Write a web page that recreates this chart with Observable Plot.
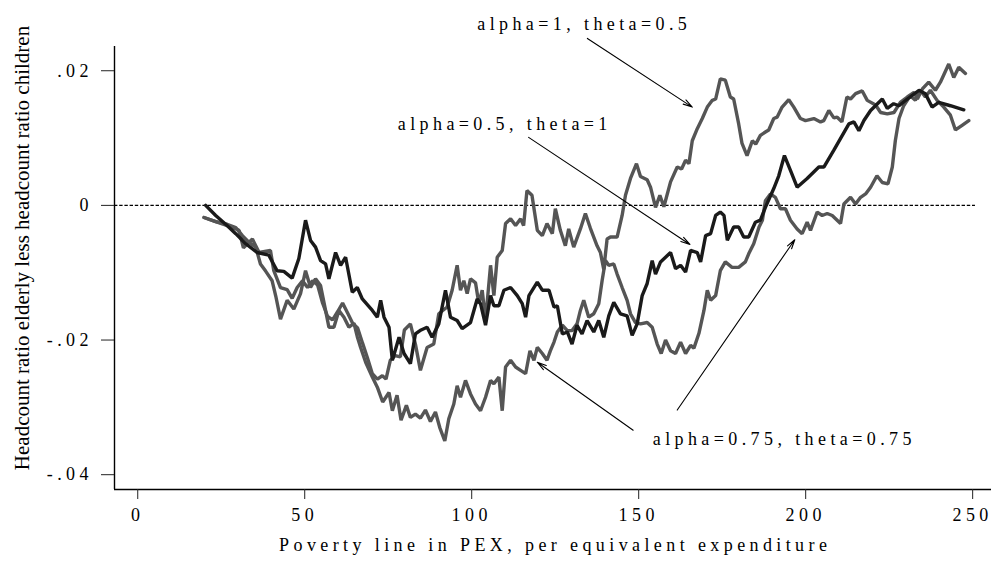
<!DOCTYPE html>
<html>
<head>
<meta charset="utf-8">
<script src="https://cdn.jsdelivr.net/npm/d3@7"></script>
<script src="https://cdn.jsdelivr.net/npm/@observablehq/plot@0.6"></script>
<style>
  html, body { margin: 0; padding: 0; background: #fff; }
</style>
</head>
<body>
<div id="chart"></div>
<script>
// ---------------- data ----------------
const xTicks = [0, 50, 100, 150, 200, 250];
const yTicks = [-0.04, -0.02, 0, 0.02];
const xDomain = [-6.3, 256.3];
const yDomain = [-0.0422, 0.0236];
const zeroLineEnd = 251.5;

const xTitle = "Poverty line in PEX, per equivalent expenditure";
const yTitle = "Headcount ratio elderly less headcount ratio children";

// alpha=0.5, theta=1 (black)
const seriesA05T1 = [
[21,0],[24,-0.0015],[27.4,-0.003],[30,-0.0042],[33,-0.0057],[36.4,-0.007],[39.9,-0.0074],[42.4,-0.0097],[44.4,-0.0098],[46.9,-0.0108],[48.9,-0.0079],[50.9,-0.0022],[52.4,-0.0052],[53.9,-0.0062],[55.4,-0.0082],[56.9,-0.0087],[57.9,-0.0109],[59.9,-0.007],[61.4,-0.0089],[62.9,-0.0077],[64.9,-0.0129],[66.4,-0.0122],[67.9,-0.0139],[70.9,-0.0156],[72.4,-0.0166],[73.4,-0.0141],[74.4,-0.0166],[75.9,-0.0181],[76.9,-0.023],[78.9,-0.0196],[80.4,-0.022],[82.3,-0.0235],[83.8,-0.0191],[85.5,-0.0185],[87.3,-0.0181],[88.8,-0.0196],[90.8,-0.0176],[92.8,-0.0126],[94.3,-0.0166],[96.3,-0.0171],[97.8,-0.0183],[100.3,-0.0174],[102.3,-0.0139],[103.3,-0.0146],[104.8,-0.0178],[106.3,-0.0134],[107.3,-0.0149],[108.8,-0.0149],[110.3,-0.0126],[112.3,-0.0122],[114.3,-0.0134],[115.8,-0.0146],[116.8,-0.0166],[117.8,-0.0134],[120.3,-0.0114],[121.8,-0.0126],[123.8,-0.0126],[125.3,-0.0151],[126.3,-0.0149],[127.8,-0.0191],[129.3,-0.0188],[130.7,-0.0206],[132.2,-0.0178],[133.7,-0.0191],[135.2,-0.0171],[137.2,-0.0188],[138.7,-0.0171],[140.2,-0.0196],[141.7,-0.0164],[143.2,-0.0144],[145.2,-0.0161],[147.2,-0.0164],[148.7,-0.0193],[150.2,-0.0176],[151.7,-0.0134],[153.2,-0.0116],[154.7,-0.0082],[155.7,-0.0102],[157.2,-0.0084],[160.2,-0.007],[161.7,-0.0094],[163.2,-0.0089],[164.7,-0.0099],[166.2,-0.0067],[168.2,-0.007],[169.2,-0.0084],[170.7,-0.0045],[172.2,-0.0042],[173.7,-0.0015],[175.1,-0.001],[176.2,-0.0015],[177.2,-0.0052],[179.1,-0.0032],[180.6,-0.0032],[182.1,-0.0047],[183.6,-0.0047],[185.6,-0.0025],[187.1,-0.0022],[188.6,-0.0003],[191.1,0.0025],[192.6,0.0044],[194.3,0.0074],[196.1,0.0052],[198.1,0.0027],[201.1,0.004],[204.6,0.0057],[206.1,0.0057],[209.1,0.0082],[213.6,0.0121],[215.1,0.0124],[216.6,0.0111],[218.1,0.0126],[220.1,0.0141],[223.6,0.0158],[225.1,0.0144],[227,0.0151],[228.6,0.0148],[231.1,0.0158],[234.6,0.0171],[236.5,0.0166],[238.5,0.0146],[240.5,0.0153],[244,0.0148],[248,0.0142]
];

// alpha=1, theta=0.5 (grey, upper)
const seriesA1T05 = [
[20.5,-0.0018],[24,-0.0024],[27.5,-0.003],[31,-0.0037],[32.3,-0.0063],[35,-0.005],[37,-0.007],[40.4,-0.0067],[41.4,-0.0097],[43.4,-0.0122],[45.4,-0.0125],[46.9,-0.0138],[48.4,-0.0122],[50,-0.0112],[51.5,-0.0122],[53,-0.0112],[54.5,-0.0118],[56,-0.0145],[57.5,-0.0165],[59,-0.017],[60.5,-0.0158],[62,-0.0145],[63.5,-0.016],[65,-0.0175],[66.5,-0.0182],[68,-0.0205],[69.4,-0.0226],[70.9,-0.025],[72.4,-0.0258],[73.9,-0.0253],[75,-0.0258],[76.3,-0.023],[77.8,-0.0223],[79.3,-0.0225],[80.5,-0.0185],[82.3,-0.0176],[83.8,-0.0206],[85.3,-0.0245],[87.3,-0.0211],[89.3,-0.0206],[90.8,-0.0161],[93.3,-0.0151],[94.8,-0.0126],[96.3,-0.0089],[97.3,-0.0126],[98.3,-0.0112],[99.3,-0.0131],[100.3,-0.0109],[101.8,-0.0115],[102.8,-0.0146],[103.8,-0.0126],[104.8,-0.0171],[106.3,-0.0089],[107.3,-0.0134],[108.3,-0.0077],[109.8,-0.0067],[110.8,-0.0027],[112.3,-0.002],[113.8,-0.003],[115.3,-0.002],[116.2,-0.003],[117.2,0.0022],[118.7,0.0015],[120.3,-0.0037],[121.8,-0.0045],[123.2,-0.0027],[124.8,-0.0042],[125.7,-0.0005],[127.2,-0.0037],[128.7,-0.006],[129.7,-0.0035],[131.2,-0.0062],[133.2,-0.0035],[134.7,-0.0012],[136.2,-0.0034],[138.2,-0.006],[139.2,-0.007],[140.2,-0.0095],[141.2,-0.005],[142.2,-0.0047],[144.2,-0.0047],[145.7,-0.0015],[146.7,0.0015],[148.2,0.004],[150,0.0062],[151.2,0.0043],[153.2,0.0038],[154.2,0.0027],[155.7,-0.0003],[157,0.0015],[158.2,-0.0002],[160.2,0.0035],[162.2,0.0057],[163.5,0.0054],[164.7,0.0067],[165.7,0.0062],[166.7,0.0096],[168.2,0.0114],[169.7,0.0129],[171.2,0.0146],[172.7,0.0156],[173.7,0.0158],[175.1,0.0188],[176.6,0.0186],[178.1,0.0161],[179.1,0.0158],[180.6,0.0121],[181.6,0.0092],[183.1,0.0074],[184.7,0.0096],[185.7,0.0091],[187.1,0.0104],[188.6,0.0109],[189.6,0.0112],[191.1,0.0129],[192.1,0.0131],[193.6,0.0146],[195.6,0.0157],[197.1,0.0146],[199.1,0.0129],[200.6,0.0126],[203.1,0.0129],[205.1,0.0124],[206.1,0.0126],[207.6,0.0141],[209.1,0.013],[210.1,0.0131],[211.5,0.0124],[213,0.0161],[214.1,0.0158],[215.6,0.0166],[217.6,0.017],[219.1,0.0156],[221.6,0.0149],[223.1,0.0138],[225.1,0.0136],[227.1,0.0138],[229,0.0153],[231.1,0.0161],[233.1,0.0168],[234.1,0.0158],[235.6,0.0173],[237.5,0.0183],[239.5,0.0171],[241,0.0183],[243.5,0.021],[245,0.019],[246.5,0.0205],[248.5,0.0196]
];

// alpha=0.75, theta=0.75 (grey, lower)
const seriesA075T075 = [
[20.5,-0.0018],[24,-0.0024],[27.4,-0.0028],[30,-0.0033],[32,-0.0045],[34,-0.0055],[36,-0.0062],[37.4,-0.0087],[39,-0.0098],[40.9,-0.0112],[42,-0.0135],[43.4,-0.0169],[45.4,-0.0141],[47.4,-0.0154],[49.4,-0.0131],[50.9,-0.0097],[52.4,-0.0122],[53.9,-0.0109],[55.4,-0.0119],[56.9,-0.0156],[57.9,-0.0181],[59.4,-0.0181],[60.9,-0.0156],[62.4,-0.0166],[63.9,-0.0181],[65.4,-0.0175],[66.4,-0.0195],[67.4,-0.0211],[68.9,-0.0233],[70.9,-0.0255],[72.4,-0.027],[74,-0.0292],[75.9,-0.0278],[76.9,-0.0305],[78.3,-0.0282],[79.5,-0.0319],[81.1,-0.0297],[82.3,-0.0315],[83.8,-0.031],[85.3,-0.0316],[86.8,-0.0304],[88.3,-0.0321],[89.8,-0.0307],[91.1,-0.033],[92.6,-0.035],[93.8,-0.0317],[95.3,-0.0295],[96.3,-0.0268],[97.3,-0.0285],[98.8,-0.026],[100.3,-0.028],[101.8,-0.0295],[103.3,-0.0305],[104.8,-0.0285],[106.3,-0.026],[107.3,-0.0265],[108.8,-0.0255],[109.8,-0.0305],[110.8,-0.024],[112.3,-0.023],[113.8,-0.024],[115.3,-0.0245],[116.8,-0.025],[118.1,-0.0216],[119.3,-0.023],[120.3,-0.0211],[121.8,-0.022],[123.2,-0.023],[124.2,-0.0216],[125.3,-0.0203],[126.3,-0.0188],[127.8,-0.0178],[129.3,-0.0186],[130.7,-0.0186],[132.2,-0.0176],[133.2,-0.0156],[134.2,-0.0141],[135.7,-0.0166],[137.2,-0.0161],[138.7,-0.0146],[139.7,-0.0112],[140.7,-0.0082],[141.7,-0.0089],[143.2,-0.0087],[144.2,-0.0102],[145.7,-0.0122],[147.2,-0.0141],[148.2,-0.0161],[149.7,-0.0174],[151.2,-0.0176],[153.2,-0.0174],[154.7,-0.0181],[156.2,-0.0206],[157.4,-0.022],[158.7,-0.02],[160.2,-0.0216],[161.7,-0.022],[163.2,-0.0203],[164.7,-0.022],[166.2,-0.0208],[167.2,-0.0212],[168.7,-0.019],[170.2,-0.0156],[171.2,-0.0126],[172.2,-0.0141],[173.7,-0.0134],[175.1,-0.0097],[176.6,-0.0084],[178.6,-0.0092],[180.6,-0.0092],[182.6,-0.0084],[183.6,-0.0072],[185.1,-0.0057],[186.7,-0.0032],[187.7,-0.0022],[188.6,0.0007],[190.1,0.0017],[191.6,0.0012],[193.1,-0.0005],[194.6,-0.0005],[196.1,-0.0022],[198.1,-0.0035],[199.6,-0.0042],[201.1,-0.0025],[202.1,-0.0037],[204.1,-0.001],[205.6,-0.0015],[207.1,-0.0012],[208.6,-0.0015],[211.1,-0.0027],[212.1,0.0002],[214.1,0.0012],[215.6,0.0002],[217.1,0.0012],[218.6,0.0017],[220.1,0.0027],[222,0.0044],[223.6,0.0034],[225.3,0.0032],[226.6,0.0057],[227.5,0.0096],[228.6,0.0129],[230,0.0148],[232,0.0163],[233.5,0.0156],[235,0.0171],[236.5,0.0161],[238,0.0171],[240,0.0156],[242,0.0146],[244,0.0134],[245.5,0.0112],[247.5,0.0119],[249.5,0.0126]
];

// annotation labels (data coordinates) and their arrows
const labelText = ["alpha=1, theta=0.5", "alpha=0.5, theta=1", "alpha=0.75, theta=0.75"];
const labelX = [133.7, 109.9, 193.6];
const labelY = [0.0269, 0.0120, -0.0348];
const arrowX1 = [135.3, 117.7, 149.0, 162.2];
const arrowY1 = [0.0248, 0.0101, -0.0334, -0.0304];
const arrowX2 = [166.7, 166.0, 120.3, 197.4];
const arrowY2 = [0.0146, -0.0058, -0.0233, -0.0051];

// ---------------- chart ----------------
const black = "#1a1a1a";
const grey = "#555555";
const LS = 4.4; // letter spacing of horizontal texts

const toRows = s => s.map(([x, y]) => ({x, y}));
const labels = labelText.map((t, i) => ({t, x: labelX[i], y: labelY[i]}));
const arrows = arrowX1.map((d, i) => ({x1: d, y1: arrowY1[i], x2: arrowX2[i], y2: arrowY2[i]}));
const fmtY = d => d === 0 ? "0" : (d < 0 ? "-" : "") + String(Math.abs(d)).replace(/^0/, "");

const plot = Plot.plot({
  width: 993,
  height: 561,
  marginLeft: 114,
  marginRight: 2,
  marginTop: 46,
  marginBottom: 72,
  x: {domain: xDomain},
  y: {domain: yDomain},
  style: {fontFamily: "'Liberation Serif', 'Times New Roman', serif", fontSize: "18px", background: "#fff", color: "#000"},
  marks: [
    Plot.ruleY([0], {x1: xDomain[0], x2: zeroLineEnd, stroke: "#000", strokeWidth: 1.4, strokeDasharray: "3.4,1.8"}),
    Plot.line(toRows(seriesA1T05), {x: "x", y: "y", stroke: grey, strokeWidth: 3.4, strokeLinejoin: "miter"}),
    Plot.line(toRows(seriesA075T075), {x: "x", y: "y", stroke: grey, strokeWidth: 3.4, strokeLinejoin: "miter"}),
    Plot.line(toRows(seriesA05T1), {x: "x", y: "y", stroke: black, strokeWidth: 3.4, strokeLinejoin: "miter"}),
    Plot.arrow(arrows, {x1: "x1", y1: "y1", x2: "x2", y2: "y2", stroke: "#000", strokeWidth: 1.1, headLength: 13, headAngle: 30}),
    Plot.text(labels, {x: "x", y: "y", text: "t", fontSize: 18, fill: "#000", dx: LS / 2}),
    Plot.ruleX([xDomain[0]], {stroke: "#000", strokeWidth: 1.4}),
    Plot.ruleY([yDomain[0]], {stroke: "#000", strokeWidth: 1.4}),
    Plot.axisX({ticks: xTicks, tickSize: 10, tickPadding: 8.7, tickFormat: d => String(d), label: null, fontSize: 18, stroke: "#222", dx: LS / 2}),
    Plot.axisY({ticks: yTicks, tickSize: 13, tickPadding: 8.6, tickFormat: fmtY, label: null, fontSize: 18, stroke: "#222"}),
    Plot.text([xTitle], {frameAnchor: "bottom", dy: 61, fontSize: 18, fill: "#000", dx: LS / 2}),
    Plot.text([yTitle], {frameAnchor: "left", textAnchor: "middle", rotate: -90, dx: -92, dy: -20, fontSize: 21, fill: "#000"})
  ]
});

d3.select(plot).selectAll("text").style("letter-spacing", LS + "px");
d3.select(plot).selectAll("text").filter(function() { return this.textContent === yTitle; }).style("letter-spacing", "0px");

document.getElementById("chart").appendChild(plot);
</script>
</body>
</html>
